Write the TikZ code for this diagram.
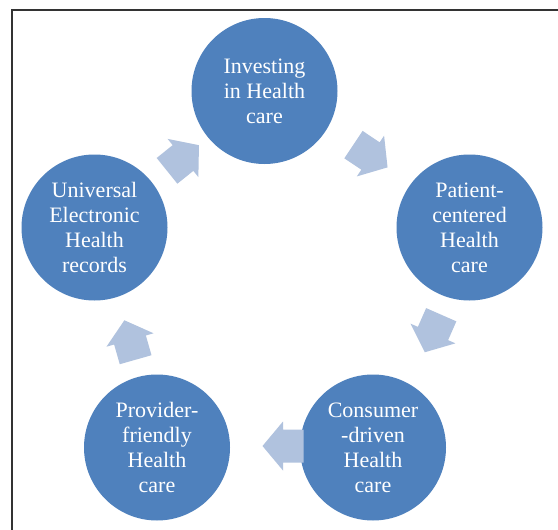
\documentclass[tikz,border=0pt]{standalone}
\usepackage{fontspec}
\setmainfont{Liberation Serif}
\definecolor{discblue}{HTML}{4F81BD}
\definecolor{arrowblue}{HTML}{B0C2DE}
\definecolor{framegray}{HTML}{333333}
\tikzset{
  disc/.style={circle, fill=discblue, draw=none, minimum size=146pt, inner sep=0pt,
    text=white, align=center, font=\fontsize{22}{25}\selectfont},
  blockarrow/.style={fill=arrowblue, draw=none},
  frameline/.style={draw=framegray, line width=2.6pt},
}
% block arrow pointing along +x, centred on the origin
\newcommand\cyclearrow[2]{%
  \fill[blockarrow, shift={(#1)}, rotate=#2]
    (-20.5,-16.5) -- (0,-16.5) -- (0,-24.5) -- (20.5,0)
    -- (0,24.5) -- (0,16.5) -- (-20.5,16.5) -- cycle;}
\begin{document}
\begin{tikzpicture}[x=1pt, y=-1pt]
  \useasboundingbox (0,0) rectangle (558,530);
  \fill[white] (0,0) rectangle (558,530);

  % frame
  \coordinate (fl) at (12,530);
  \coordinate (fc) at (12,10);
  \coordinate (fr) at (558,10);
  \draw[frameline] (fl) -- (fc) -- (fr);

  % discs of the cycle
  \node[disc] (invest)   at (264.5,91)    {Investing\\in Health\\care};
  \node[disc] (patient)  at (469.5,227.5) {Patient-\\centered\\Health\\care};
  \node[disc] (consumer) at (373,447.5)   {Consumer\\-driven\\Health\\care};
  \node[disc] (provider) at (157,447.5)   {Provider-\\friendly\\Health\\care};
  \node[disc] (records)  at (94.5,227.5)  {Universal\\Electronic\\Health\\records};

  % arrow positions between neighbouring discs
  \coordinate (a1) at (183,158);
  \coordinate (a2) at (370.5,156);
  \coordinate (a3) at (433,333.5);
  \coordinate (a4) at (283,446);
  \coordinate (a5) at (130,340);

  \cyclearrow{a1}{38.8}
  \cyclearrow{a2}{-33.7}
  \cyclearrow{a3}{-113.7}
  \cyclearrow{a4}{180}
  \cyclearrow{a5}{105.9}
\end{tikzpicture}
\end{document}
